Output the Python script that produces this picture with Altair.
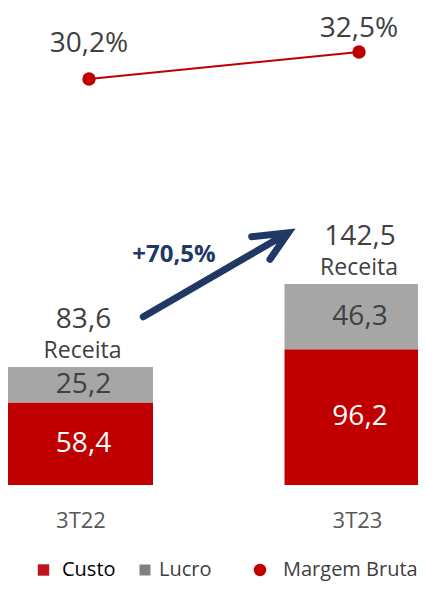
import altair as alt
import pandas as pd

# ---- data ----
periods = ["3T22", "3T23"]
custo = [58.4, 96.2]
lucro = [25.2, 46.3]
receita = [83.6, 142.5]
margem = [30.2, 32.5]
custo_labels = ["58,4", "96,2"]
lucro_labels = ["25,2", "46,3"]
receita_labels = ["83,6", "142,5"]
margem_labels = ["30,2%", "32,5%"]
receita_word = "Receita"
growth_label = "+70,5%"
legend_labels = ["Custo", "Lucro", "Margem Bruta"]

RED = "#C00000"
GRAY = "#A6A6A6"
TXT = "#404040"
NAVY = "#1F3864"
FONT = "Open Sans"

rows = []
for i, p in enumerate(periods):
    rows.append(dict(period=p, serie="Custo", value=custo[i], label=custo_labels[i], ord=0))
    rows.append(dict(period=p, serie="Lucro", value=lucro[i], label=lucro_labels[i], ord=1))
stack = pd.DataFrame(rows)
tot = pd.DataFrame(dict(period=periods, receita=receita, label=receita_labels))
mar = pd.DataFrame(dict(period=periods, margem=margem, label=margem_labels))

# ---- bars ----
xb = alt.X("period:N", sort=periods,
           scale=alt.Scale(type="point", range=[72.5, 349], padding=0),
           axis=alt.Axis(title=None, domain=False, ticks=False, tickSize=0, labelFontSize=22,
                         labelColor="#595959", labelFont=FONT, labelPadding=25, labelAngle=0))
ysc = alt.Scale(domain=[0, 338], nice=False, zero=True)

base = alt.Chart(stack).transform_stack(
    stack="value", groupby=["period"], as_=["v0", "v1"], sort=[alt.SortField("ord")]
).transform_calculate(mid="(datum.v0 + datum.v1) / 2")

bars = base.mark_bar(size=145).encode(
    x=xb,
    y=alt.Y("v0:Q", scale=ysc, axis=None),
    y2="v1:Q",
    color=alt.Color("serie:N", scale=alt.Scale(domain=["Custo", "Lucro"], range=[RED, GRAY]), legend=None),
)
txt_custo = base.transform_filter(alt.datum.serie == "Custo").mark_text(
    font=FONT, fontSize=28, color="white", baseline="middle", dx=3
).encode(x=xb, y=alt.Y("mid:Q", scale=ysc, axis=None), text="label:N")
txt_lucro = base.transform_filter(alt.datum.serie == "Lucro").mark_text(
    font=FONT, fontSize=28, color=TXT, baseline="middle", dx=3
).encode(x=xb, y=alt.Y("mid:Q", scale=ysc, axis=None), text="label:N")

tot_num = alt.Chart(tot).mark_text(font=FONT, fontSize=28, color=TXT, baseline="alphabetic", dy=-39, dx=3).encode(
    x=xb, y=alt.Y("receita:Q", scale=ysc, axis=None), text="label:N")
tot_word = alt.Chart(tot).mark_text(font=FONT, fontSize=23, color=TXT, baseline="alphabetic", dy=-9, dx=2).encode(
    x=xb, y=alt.Y("receita:Q", scale=ysc, axis=None), text=alt.value(receita_word))

bar_layer = alt.layer(bars, txt_custo, txt_lucro, tot_num, tot_word)

# ---- margin line ----
xl = alt.X("period:N", sort=periods, scale=alt.Scale(type="point", range=[81, 351], padding=0), axis=None)
yl = alt.Y("margem:Q", scale=alt.Scale(domain=[-4.39, 36.25], nice=False, zero=False), axis=None)
lbase = alt.Chart(mar)
line = lbase.mark_line(color=RED, strokeWidth=2).encode(x=xl, y=yl)
pts = lbase.mark_circle(size=180, color=RED, opacity=1).encode(x=xl, y=yl)
lab1 = lbase.transform_filter(alt.datum.period == periods[0]).mark_text(
    font=FONT, fontSize=28, color=TXT, baseline="alphabetic", dy=-27).encode(x=xl, y=yl, text="label:N")
lab2 = lbase.transform_filter(alt.datum.period == periods[1]).mark_text(
    font=FONT, fontSize=28, color=TXT, baseline="alphabetic", dy=-15).encode(x=xl, y=yl, text="label:N")
line_layer = alt.layer(line, pts, lab1, lab2)

# ---- annotations ----
one = alt.Data(values=[{"a": 1}])
arrow_path = "M -0.859 0.584 L 0.90 -0.435 M 0.496 -0.416 L 0.954 -0.466 L 0.725 -0.134"
arrow = alt.Chart(one).mark_point(
    shape=arrow_path, size=25600, filled=False, color=NAVY, strokeWidth=7,
    strokeJoin="miter", strokeCap="round", opacity=1
).encode(x=alt.value(204), y=alt.value(262))
growth = alt.Chart(one).mark_text(font=FONT, fontSize=24, fontWeight="bold", color=NAVY,
                                  baseline="alphabetic").encode(
    x=alt.value(166), y=alt.value(254), text=alt.value(growth_label))

ly = 562
leg_sq1 = alt.Chart(one).mark_point(shape="square", filled=True, size=130, color="#C0141C", opacity=1).encode(
    x=alt.value(35.5), y=alt.value(ly))
leg_t1 = alt.Chart(one).mark_text(font=FONT, fontSize=20, color="#000000", align="left", baseline="middle").encode(
    x=alt.value(54), y=alt.value(ly), text=alt.value(legend_labels[0]))
leg_sq2 = alt.Chart(one).mark_point(shape="square", filled=True, size=120, color="#808080", opacity=1).encode(
    x=alt.value(137), y=alt.value(ly))
leg_t2 = alt.Chart(one).mark_text(font=FONT, fontSize=20, color=TXT, align="left", baseline="middle").encode(
    x=alt.value(151), y=alt.value(ly), text=alt.value(legend_labels[1]))
leg_c3 = alt.Chart(one).mark_point(shape="circle", filled=True, size=155, color=RED, opacity=1).encode(
    x=alt.value(252), y=alt.value(ly))
leg_t3 = alt.Chart(one).mark_text(font=FONT, fontSize=20, color=TXT, align="left", baseline="middle").encode(
    x=alt.value(275), y=alt.value(ly), text=alt.value(legend_labels[2]))

annot = alt.layer(arrow, growth, leg_sq1, leg_t1, leg_sq2, leg_t2, leg_c3, leg_t3)

chart = alt.layer(bar_layer, line_layer, annot).resolve_scale(
    x="independent", y="independent"
).properties(
    width=410, height=477,
    padding={"left": 0, "top": 0, "right": 0, "bottom": 96},
    autosize=alt.AutoSizeParams(type="none"),
).configure_view(stroke=None)

chart.save("out.html", embed_options={"renderer": "svg", "actions": False})
